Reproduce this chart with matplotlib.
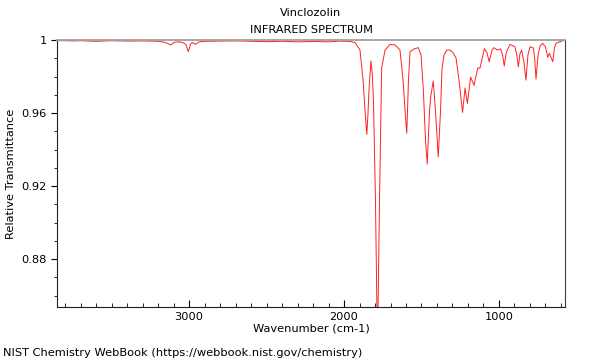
import matplotlib
matplotlib.use("Agg")
import matplotlib.pyplot as plt
from matplotlib.ticker import MultipleLocator, FixedLocator

# Wavenumber (cm-1) and relative transmittance
wavenumber = [3850, 3750, 3700, 3600, 3500, 3400, 3300, 3200, 3160, 3140, 3118,
              3095, 3065, 3037, 3020, 3005, 2990, 2983, 2970, 2957, 2940, 2920,
              2880, 2800, 2700, 2600, 2500, 2400, 2300, 2200, 2100, 2026, 1961,
              1929, 1897, 1877, 1865, 1853, 1845, 1839, 1826, 1818, 1810, 1797,
              1784, 1771, 1757, 1735, 1703, 1671, 1639, 1619, 1605, 1595, 1584,
              1574, 1548, 1521, 1503, 1488, 1474, 1463, 1448, 1439, 1424, 1410,
              1392, 1377, 1368, 1355, 1337, 1316, 1295, 1277, 1258, 1235, 1219,
              1204, 1183, 1161, 1137, 1123, 1094, 1077, 1063, 1045, 1032, 1011,
              989, 977, 966, 952, 929, 897, 885, 875, 865, 854, 839, 826, 813,
              800, 777, 769, 761, 748, 735, 718, 700, 685, 675, 653, 642, 632,
              606, 574]
transmittance = [0.9997, 0.9995, 0.9996, 0.9993, 0.9996, 0.9994, 0.9995, 0.9993,
                 0.9988, 0.9982, 0.9973, 0.9988, 0.9990, 0.9985, 0.9975, 0.9936,
                 0.9978, 0.9985, 0.9983, 0.9976, 0.9988, 0.9992, 0.9993, 0.9994,
                 0.9995, 0.9993, 0.9991, 0.9993, 0.9990, 0.9992, 0.9990, 0.9994,
                 0.9992, 0.9986, 0.9945, 0.9780, 0.9620, 0.9483, 0.9600, 0.9726,
                 0.9885, 0.9820, 0.9670, 0.9120, 0.8300, 0.9120, 0.9847, 0.9945,
                 0.9976, 0.9973, 0.9945, 0.9780, 0.9600, 0.9489, 0.9780, 0.9936,
                 0.9951, 0.9958, 0.9918, 0.9726, 0.9450, 0.9320, 0.9616, 0.9700,
                 0.9775, 0.9616, 0.9359, 0.9616, 0.9836, 0.9918, 0.9945, 0.9945,
                 0.9929, 0.9901, 0.9780, 0.9603, 0.9737, 0.9652, 0.9797, 0.9751,
                 0.9847, 0.9845, 0.9953, 0.9929, 0.9881, 0.9945, 0.9958, 0.9945,
                 0.9951, 0.9918, 0.9858, 0.9934, 0.9976, 0.9963, 0.9918, 0.9852,
                 0.9923, 0.9945, 0.9879, 0.9780, 0.9918, 0.9963, 0.9956, 0.9890,
                 0.9786, 0.9918, 0.9967, 0.9982, 0.9962, 0.9905, 0.9927, 0.9881,
                 0.9956, 0.9982, 0.9991, 1.0000]

title_main = "Vinclozolin"
title_sub = "INFRARED SPECTRUM"
x_label = "Wavenumber (cm-1)"
y_label = "Relative Transmittance"
footer = "NIST Chemistry WebBook (https://webbook.nist.gov/chemistry)"
x_major = [3000, 2000, 1000]
y_major = [0.88, 0.92, 0.96, 1.0]
y_major_labels = ["0.88", "0.92", "0.96", "1"]

FS = 8.2

fig = plt.figure(figsize=(6, 3.6), dpi=100)
ax = fig.add_axes([57/600, 1-307/360, (565-57)/600, (307-40)/360])

ax.plot(wavenumber, transmittance, color="#ff2020", linewidth=0.7)

ax.set_xlim(3852, 574)
ax.set_ylim(0.8537, 1.0)

ax.xaxis.set_major_locator(FixedLocator(x_major))
ax.xaxis.set_minor_locator(MultipleLocator(100))
ax.yaxis.set_major_locator(FixedLocator(y_major))
ax.set_yticklabels(y_major_labels)
ax.yaxis.set_minor_locator(MultipleLocator(0.01))

ax.tick_params(axis="x", which="both", direction="in", labelsize=FS, top=False)
ax.tick_params(axis="x", which="major", length=5)
ax.tick_params(axis="x", which="minor", length=3)
ax.tick_params(axis="y", which="both", direction="out", labelsize=FS, right=False)
ax.tick_params(axis="y", which="major", length=4)
ax.tick_params(axis="y", which="minor", length=2.5)

ax.spines["top"].set_color("#a0a0a0")
ax.spines["top"].set_linewidth(1.3)
ax.spines["right"].set_color("#404040")
ax.spines["left"].set_color("#202020")
ax.spines["bottom"].set_color("#202020")

ax.set_xlabel(x_label, fontsize=FS, labelpad=1)
ax.set_ylabel(y_label, fontsize=FS)
ax.yaxis.set_label_coords((16 - 57) / 508, 0.5)

fig.text(311/600, 1-13/360, title_main, ha="center", va="center", fontsize=FS)
fig.text(311/600, 1-30/360, title_sub, ha="center", va="center", fontsize=FS)
fig.text(3/600, 1-353/360, footer, ha="left", va="center", fontsize=FS)

fig.savefig("out.png", dpi=100)
